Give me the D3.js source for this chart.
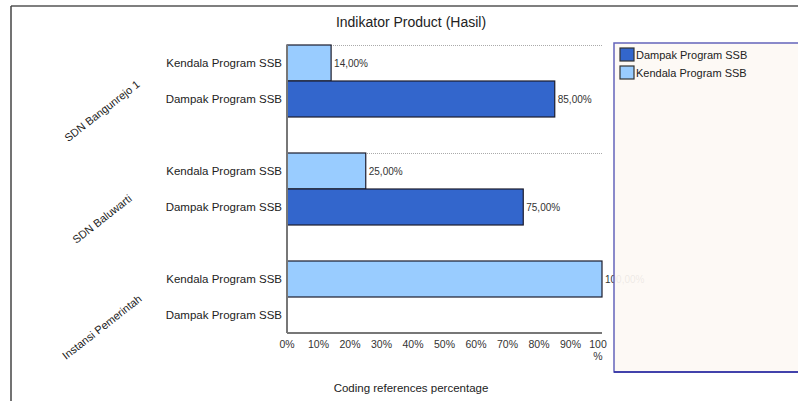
<!DOCTYPE html>
<html>
<head>
<meta charset="utf-8">
<script src="https://cdn.jsdelivr.net/npm/d3@7"></script>
<style>
  body { margin: 0; background: #fff; }
  svg { display: block; font-family: "Liberation Sans", Arial, sans-serif; }
</style>
</head>
<body>
<div id="chart"></div>
<script>
    const groups = ['SDN Bangunrejo 1', 'SDN Baluwarti', 'Instansi Pemerintah'];
    const seriesNames = ['Kendala Program SSB', 'Dampak Program SSB'];
    const kendalaValues = [14, 25, 100];
    const dampakValues = [85, 75, 0];
    const xTicks = [0, 10, 20, 30, 40, 50, 60, 70, 80, 90, 100];
    const legendNames = ['Dampak Program SSB', 'Kendala Program SSB'];

    const COLORS = {
        'Dampak Program SSB': '#3366cc',
        'Kendala Program SSB': '#99ccff',
        text: '#222'
    };

    const W = 798, H = 401;
    const plot = { left: 287, right: 602, top: 45 };
    const groupStep = 108, rowsPerGroup = 2, rowH = 36;

    const svg = d3.select('#chart').append('svg')
        .attr('width', W)
        .attr('height', H);

    // frame lines
    svg.append('line').attr('x1', 11).attr('x2', W).attr('y1', 6).attr('y2', 6)
        .attr('stroke', '#555').attr('stroke-width', 1.5);
    svg.append('line').attr('x1', 11).attr('x2', 11).attr('y1', 6).attr('y2', H)
        .attr('stroke', '#444').attr('stroke-width', 1.5);

    svg.append('text')
        .attr('x', 411).attr('y', 27)
        .attr('text-anchor', 'middle')
        .style('font-size', '14px')
        .attr('fill', COLORS.text)
        .text('Indikator Product (Hasil)');

    const x = d3.scaleLinear().domain([0, 100]).range([plot.left, plot.right]);

    const y0 = d3.scaleBand()
        .domain(groups)
        .range([plot.top, plot.top + groupStep * groups.length])
        .paddingInner(0);

    const y1 = d3.scaleBand()
        .domain(seriesNames)
        .range([0, rowH * rowsPerGroup]);

    const axisY = y0(groups[groups.length - 1]) + y1.range()[1];

    const rows = [];
    groups.forEach((g, i) => {
        rows.push({ group: g, name: 'Kendala Program SSB', value: kendalaValues[i] });
        rows.push({ group: g, name: 'Dampak Program SSB', value: dampakValues[i] });
    });

    // dotted separators at the top of each group
    svg.selectAll('.sep')
        .data(groups)
        .enter()
        .append('line')
        .attr('x1', plot.left).attr('x2', plot.right)
        .attr('y1', d => y0(d) + 0.5).attr('y2', d => y0(d) + 0.5)
        .attr('stroke', '#aaa')
        .attr('stroke-dasharray', '1,1');

    // bars
    svg.selectAll('.bar')
        .data(rows.filter(d => d.value > 0))
        .enter()
        .append('rect')
        .attr('x', x(0))
        .attr('y', d => y0(d.group) + y1(d.name))
        .attr('width', d => x(d.value) - x(0))
        .attr('height', y1.bandwidth())
        .attr('fill', d => COLORS[d.name])
        .attr('stroke', '#1c1c2c')
        .attr('stroke-width', 1.2);

    // value labels
    const fmt = v => d3.format('.2f')(v).replace('.', ',') + '%';
    svg.selectAll('.val')
        .data(rows.filter(d => d.value > 0))
        .enter()
        .append('text')
        .attr('x', d => x(d.value) + 3)
        .attr('y', d => y0(d.group) + y1(d.name) + y1.bandwidth() / 2)
        .attr('dy', '0.35em')
        .style('font-size', '10px')
        .attr('fill', '#333')
        .text(d => fmt(d.value));

    // category labels
    svg.selectAll('.cat')
        .data(rows)
        .enter()
        .append('text')
        .attr('x', plot.left - 5)
        .attr('y', d => y0(d.group) + y1(d.name) + y1.bandwidth() / 2)
        .attr('dy', '0.35em')
        .attr('text-anchor', 'end')
        .style('font-size', '11.5px')
        .attr('fill', COLORS.text)
        .text(d => d.name);

    // group labels, rotated
    svg.selectAll('.grp')
        .data(groups)
        .enter()
        .append('text')
        .attr('transform', d => `translate(102,${y0(d) + y0.bandwidth() / 2 + 12}) rotate(-38)`)
        .attr('text-anchor', 'middle')
        .attr('dy', '0.35em')
        .style('font-size', '11px')
        .attr('fill', COLORS.text)
        .text(d => d);

    // axes lines
    svg.append('line')
        .attr('x1', plot.left).attr('x2', plot.left)
        .attr('y1', plot.top).attr('y2', axisY)
        .attr('stroke', '#777').attr('stroke-width', 2);
    svg.append('line')
        .attr('x1', plot.left).attr('x2', plot.right)
        .attr('y1', axisY).attr('y2', axisY)
        .attr('stroke', '#777').attr('stroke-width', 2);

    // x tick labels
    const tickText = svg.selectAll('.tick')
        .data(xTicks)
        .enter()
        .append('text')
        .attr('x', d => x(d) - (d === 100 ? 4 : 0))
        .attr('y', axisY + 15)
        .attr('text-anchor', 'middle')
        .style('font-size', '10.5px')
        .attr('fill', '#333');
    tickText.each(function (d) {
        const t = d3.select(this);
        if (d === 100) {
            t.append('tspan').text('100');
            t.append('tspan').attr('x', x(d) - 4).attr('dy', '1.1em').text('%');
        } else {
            t.text(d + '%');
        }
    });

    svg.append('text')
        .attr('x', 411).attr('y', 392)
        .attr('text-anchor', 'middle')
        .style('font-size', '11.5px')
        .attr('fill', COLORS.text)
        .text('Coding references percentage');

    // legend box, drawn over the chart
    const legend = svg.append('g').attr('class', 'legend');
    legend.append('rect')
        .attr('x', 614).attr('y', 43)
        .attr('width', 200).attr('height', 329)
        .attr('fill', '#fdf9f4')
        .attr('fill-opacity', 0.92)
        .attr('stroke', '#6464bb')
        .attr('stroke-width', 1.5);
    legend.append('line')
        .attr('x1', 614).attr('x2', W).attr('y1', 372).attr('y2', 372)
        .attr('stroke', '#2a2aa0').attr('stroke-width', 1.5);

    const legendItem = legend.selectAll('.legend-item')
        .data(legendNames)
        .enter()
        .append('g')
        .attr('transform', (d, i) => `translate(620,${48 + i * 18})`);

    legendItem.append('rect')
        .attr('width', 14).attr('height', 13)
        .attr('fill', d => COLORS[d])
        .attr('stroke', '#333')
        .attr('stroke-width', 1.2);

    legendItem.append('text')
        .attr('x', 16).attr('y', 7)
        .attr('dy', '0.35em')
        .style('font-size', '11px')
        .attr('fill', COLORS.text)
        .text(d => d);
</script>
</body>
</html>
